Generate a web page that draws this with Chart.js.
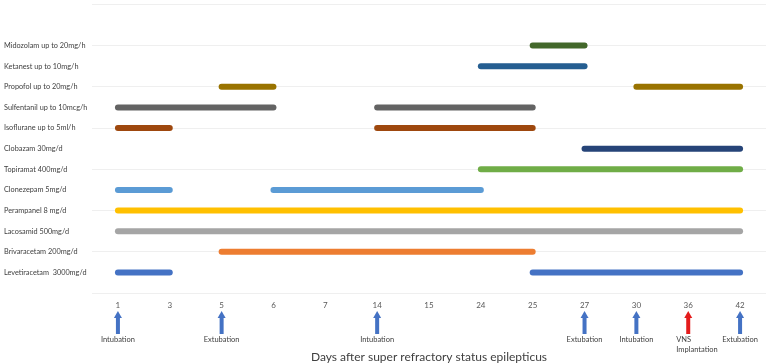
<!DOCTYPE html>
<html>
<head>
<meta charset="utf-8">
<script src="https://cdn.jsdelivr.net/npm/chart.js@4"></script>
<style>
  html, body { margin: 0; padding: 0; background: #fff; }
  #wrap { width: 771px; height: 364px; position: relative; }
</style>
</head>
<body>
<div id="wrap"><canvas id="c" width="771" height="364"></canvas></div>
<script>
// ---- Data ----
const days = ['1', '3', '5', '6', '7', '14', '15', '24', '25', '27', '30', '36', '42'];

// rows from bottom (1) to top (12)
const drugs = [
  'Levetiracetam  3000mg/d',
  'Brivaracetam 200mg/d',
  'Lacosamid 500mg/d',
  'Perampanel 8 mg/d',
  'Clonezepam 5mg/d',
  'Topiramat 400mg/d',
  'Clobazam 30mg/d',
  'Isoflurane up to 5ml/h',
  'Sulfentanil up to 10mcg/h',
  'Propofol up to 20mg/h',
  'Ketanest up to 10mg/h',
  'Midozolam up to 20mg/h'
];

// treatment periods [start day, end day] per drug (same order as drugs)
const periods = [
  [['1', '3'], ['25', '42']],
  [['5', '25']],
  [['1', '42']],
  [['1', '42']],
  [['1', '3'], ['6', '24']],
  [['24', '42']],
  [['27', '42']],
  [['1', '3'], ['14', '25']],
  [['1', '6'], ['14', '25']],
  [['5', '6'], ['30', '42']],
  [['24', '27']],
  [['25', '27']]
];

const drugColors = [
  '#4472C4', '#ED7D31', '#A5A5A5', '#FFC000', '#5B9BD5', '#70AD47',
  '#264478', '#9E480E', '#636363', '#997300', '#255E91', '#43682B'
];

const eventDays = ['1', '5', '14', '27', '30', '36', '42'];
const eventLabels = ['Intubation', 'Extubation', 'Intubation', 'Extubation', 'Intubation', 'VNS\nImplantation', 'Extubation'];
const eventColors = ['#4472C4', '#4472C4', '#4472C4', '#4472C4', '#4472C4', '#E41C1C', '#4472C4'];

const xTitle = 'Days after super refractory status epilepticus';

// ---- Build datasets ----
const datasets = [];
periods.forEach((segs, i) => {
  segs.forEach(seg => {
    datasets.push({
      label: drugs[i],
      data: [{ x: seg[0], y: i + 1 }, { x: seg[1], y: i + 1 }],
      borderColor: drugColors[i],
      backgroundColor: drugColors[i],
      borderWidth: 6,
      borderCapStyle: 'round',
      pointRadius: 0,
      pointHoverRadius: 0,
      fill: false
    });
  });
});

const FONT = 'Lato, "Open Sans", sans-serif';

const arrowPlugin = {
  id: 'eventArrows',
  afterDraw(chart) {
    const ctx = chart.ctx;
    const xs = chart.scales.x;
    const base = chart.chartArea.bottom;
    ctx.save();
    eventDays.forEach((d, i) => {
      const x = xs.getPixelForValue(days.indexOf(d));
      const top = base + 18;
      const bottom = base + 41;
      const col = eventColors[i];
      ctx.fillStyle = col;
      // shaft
      ctx.fillRect(x - 2, top + 6, 4, bottom - top - 6);
      // head
      ctx.beginPath();
      ctx.moveTo(x, top);
      ctx.lineTo(x + 4, top + 7);
      ctx.lineTo(x - 4, top + 7);
      ctx.closePath();
      ctx.fill();
      // label
      ctx.fillStyle = '#404040';
      ctx.font = '7.5px ' + FONT;
      ctx.textBaseline = 'middle';
      const lines = eventLabels[i].split('\n');
      if (lines.length > 1) {
        ctx.textAlign = 'left';
        lines.forEach((ln, k) => ctx.fillText(ln, x - 12, bottom + 6 + k * 10));
      } else {
        ctx.textAlign = 'center';
        ctx.fillText(lines[0], x, bottom + 6);
      }
    });
    ctx.restore();
  }
};

new Chart(document.getElementById('c'), {
  type: 'line',
  data: { labels: days, datasets },
  plugins: [arrowPlugin],
  options: {
    responsive: false,
    animation: false,
    events: [],
    layout: { padding: { left: 4, right: 5, top: 0, bottom: 0 } },
    plugins: { legend: { display: false }, tooltip: { enabled: false } },
    scales: {
      x: {
        type: 'category',
        offset: true,
        grid: { display: false, drawTicks: false },
        border: { display: false },
        ticks: { color: '#595959', font: { family: FONT, size: 8 }, padding: 8, maxRotation: 0, autoSkip: false },
        title: {
          display: true,
          text: xTitle,
          color: '#404040',
          font: { family: FONT, size: 12 },
          padding: { top: 31, bottom: 0 }
        }
      },
      y: {
        type: 'linear',
        min: 0,
        max: 14,
        afterFit(scale) { scale.width = 88; },
        border: { display: false },
        grid: {
          drawTicks: false,
          color: ctx => (ctx.tick && ctx.tick.value % 2 === 0) ? '#efefef' : 'rgba(0,0,0,0)',
          lineWidth: 1
        },
        ticks: {
          stepSize: 1,
          crossAlign: 'far',
          padding: 0,
          color: '#404040',
          font: { family: FONT, size: 7.3 },
          callback: v => (v >= 1 && v <= drugs.length) ? drugs[v - 1] : ''
        }
      }
    }
  }
});
</script>
</body>
</html>
